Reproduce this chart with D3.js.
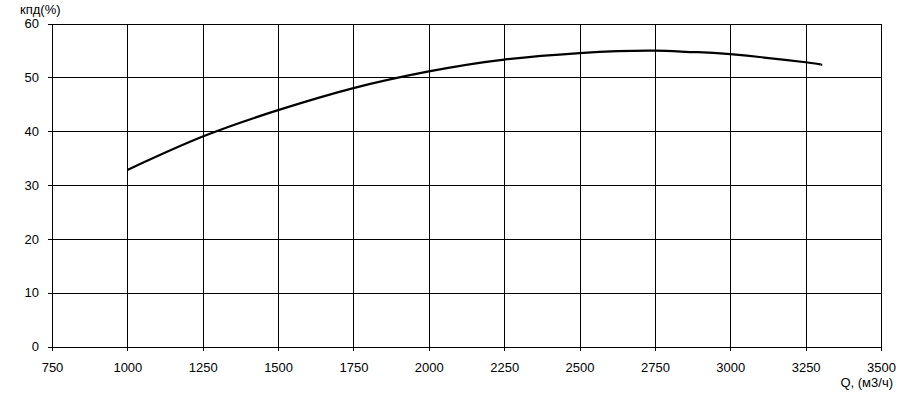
<!DOCTYPE html>
<html>
<head>
<meta charset="utf-8">
<script src="https://cdn.jsdelivr.net/npm/d3@7"></script>
<style>
  html, body { margin: 0; padding: 0; background: #fff; }
  svg { display: block; }
  text { font-family: "Liberation Sans", Arial, sans-serif; font-size: 13px; fill: #000; }
</style>
</head>
<body>
<svg id="chart" width="900" height="398"></svg>
<script>
const flowQ = [1000, 1250, 1500, 1750, 2000, 2250, 2500, 2625, 2750, 2875, 3000, 3250, 3300];
const efficiency = [32.8, 39.0, 43.9, 48.0, 51.1, 53.3, 54.5, 54.85, 54.95, 54.7, 54.3, 52.8, 52.3];
const xTicks = [750, 1000, 1250, 1500, 1750, 2000, 2250, 2500, 2750, 3000, 3250, 3500];
const yTicks = [0, 10, 20, 30, 40, 50, 60];
const yTitle = "кпд(%)";
const xTitle = "Q, (м3/ч)";

const svg = d3.select("#chart");
const pLeft = 52, pRight = 881, pTop = 23.5, pBottom = 346.5;

const x = d3.scaleLinear().domain([750, 3500]).range([pLeft, pRight]);
const y = d3.scaleLinear().domain([0, 60]).range([pBottom, pTop]);

// grid
const grid = svg.append("g").attr("shape-rendering", "crispEdges");
grid.selectAll("line.v").data(xTicks).join("line").attr("class", "v")
  .attr("x1", d => Math.round(x(d)) + 0.5).attr("x2", d => Math.round(x(d)) + 0.5)
  .attr("y1", pTop).attr("y2", pBottom)
  .attr("stroke", "#000").attr("stroke-width", 1);
grid.selectAll("line.h").data(yTicks).join("line").attr("class", "h")
  .attr("y1", d => Math.round(y(d)) + 0.5).attr("y2", d => Math.round(y(d)) + 0.5)
  .attr("x1", pLeft).attr("x2", pRight)
  .attr("stroke", "#000").attr("stroke-width", 1);

// axes
const xAxis = d3.axisBottom(x).tickValues(xTicks).tickSize(4).tickPadding(12).tickFormat(d3.format("d"));
const gx = svg.append("g").attr("transform", `translate(0,${Math.round(pBottom)})`).call(xAxis);
gx.select(".domain").remove();
gx.selectAll(".tick line").attr("stroke", "#000").attr("shape-rendering", "crispEdges");
gx.selectAll("text").style("font-size", "13px").style("font-family", "'Liberation Sans', Arial, sans-serif");

const yAxis = d3.axisLeft(y).tickValues(yTicks).tickSize(4).tickPadding(9).tickFormat(d3.format("d"));
const gy = svg.append("g").attr("transform", `translate(${Math.round(pLeft)},0)`).call(yAxis);
gy.select(".domain").remove();
gy.selectAll(".tick line").attr("stroke", "#000").attr("shape-rendering", "crispEdges");
gy.selectAll("text").style("font-size", "13px").style("font-family", "'Liberation Sans', Arial, sans-serif");

// titles
svg.append("text").attr("x", 20).attr("y", 14).text(yTitle);
svg.append("text").attr("x", 893).attr("y", 387).attr("text-anchor", "end").text(xTitle);

// curve
const pts = flowQ.map((q, i) => [q, efficiency[i]]);
const line = d3.line().x(d => x(d[0])).y(d => y(d[1])).curve(d3.curveNatural);
svg.append("path").datum(pts)
  .attr("d", line)
  .attr("fill", "none")
  .attr("stroke", "#000")
  .attr("stroke-width", 2.2);
</script>
</body>
</html>
